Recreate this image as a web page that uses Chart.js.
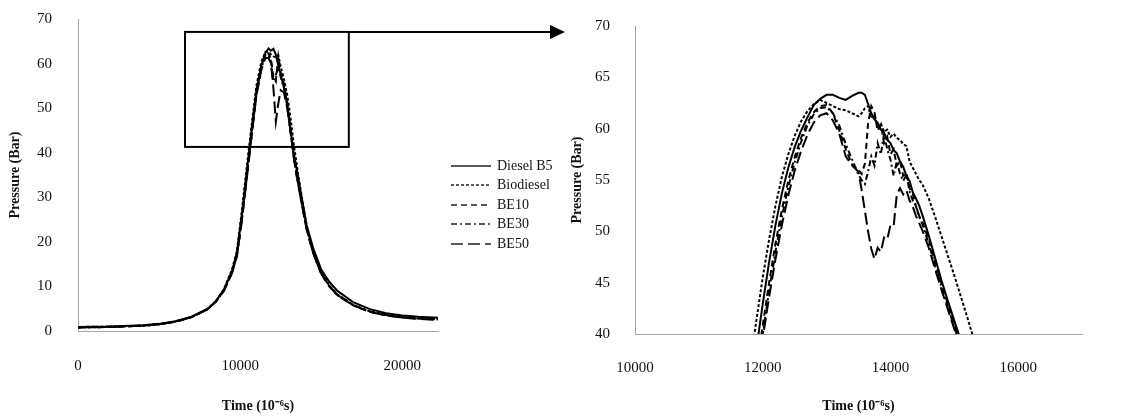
<!DOCTYPE html>
<html lang="en">
<head>
<meta charset="UTF-8">
<title>Cylinder pressure</title>
<script src="https://cdn.jsdelivr.net/npm/chart.js"></script>
<style>
    body { margin: 0; background: #fff; }
    #wrap { position: relative; width: 1122px; height: 416px; overflow: hidden;
            font-family: 'Liberation Serif', 'Times New Roman', serif; }
    canvas { position: absolute; top: 0; }
    #overview { left: 0; }
    #detail { left: 560px; }
    #legend { position: absolute; left: 451px; top: 156px; font-size: 14px; color: #111; }
    .row { height: 19.5px; display: flex; align-items: center; white-space: nowrap; }
    .row svg { margin-right: 6px; }
</style>
</head>
<body>
<div id="wrap">
    <canvas id="overview" width="570" height="416"></canvas>
    <canvas id="detail" width="562" height="416"></canvas>
    <div id="legend"></div>
</div>
<script>
    // full trace (time in 10^-6 s, pressure in bar)
    var ovTime = [0, 2000, 4000, 5000, 6000, 7000, 8000, 8500, 9000, 9500,
        9800, 10100, 10400, 10700, 11000, 11300, 11550, 11750, 11900, 12050,
        12200, 12350, 12500, 12700, 12900, 13100, 13300, 13500, 13800, 14100,
        14500, 15000, 15500, 16000, 17000, 18000, 19000, 20000, 21000, 22200];
    var ovDiesel = [0.9, 1.0, 1.3, 1.6, 2.2, 3.2, 5.0, 6.7, 9.3, 13.5,
        17.5, 26.1, 35.5, 45.0, 54.0, 59.5, 62.4, 63.4, 62.9, 63.3,
        62.0, 59.6, 57.5, 54.6, 51.0, 45.5, 40.0, 36.0, 29.8, 23.8,
        18.6, 13.8, 11.0, 9.0, 6.4, 4.9, 4.0, 3.5, 3.2, 3.0];
    var ovBio = [0.8, 0.9, 1.2, 1.5, 2.1, 3.1, 4.9, 6.7, 9.4, 13.8,
        18.0, 26.8, 36.5, 46.0, 55.0, 60.3, 62.6, 62.7, 62.0, 61.6,
        61.4, 61.9, 59.3, 56.5, 53.0, 48.0, 42.0, 37.0, 30.0, 23.4,
        17.8, 13.0, 10.2, 8.2, 5.8, 4.4, 3.6, 3.1, 2.8, 2.6];
    var ovBE10 = [0.8, 0.9, 1.2, 1.5, 2.1, 3.1, 4.9, 6.6, 9.1, 13.2,
        17.0, 25.0, 34.5, 44.0, 53.2, 59.0, 62.0, 62.3, 61.0, 57.0,
        56.0, 61.5, 58.0, 55.5, 51.0, 45.0, 39.2, 34.8, 28.8, 23.0,
        17.6, 12.8, 10.0, 8.0, 5.7, 4.3, 3.5, 3.0, 2.8, 2.6];
    var ovBE30 = [0.9, 1.0, 1.2, 1.5, 2.1, 3.1, 4.9, 6.6, 9.1, 13.1,
        16.9, 24.8, 34.2, 43.7, 53.0, 58.8, 61.8, 62.0, 60.5, 56.0,
        57.5, 59.0, 57.0, 54.5, 50.5, 44.8, 39.2, 34.5, 28.5, 22.8,
        17.5, 12.9, 10.1, 8.1, 5.8, 4.4, 3.6, 3.1, 2.8, 2.7];
    var ovBE50 = [0.8, 0.9, 1.2, 1.5, 2.1, 3.1, 4.9, 6.6, 9.0, 13.0,
        16.8, 24.6, 34.0, 43.5, 52.8, 58.5, 61.2, 61.3, 60.0, 54.5,
        47.0, 51.0, 54.0, 53.5, 50.0, 45.0, 39.0, 34.5, 28.5, 22.8,
        17.5, 12.9, 10.0, 8.0, 5.7, 4.3, 3.5, 3.0, 2.7, 2.5];

    // peak region, finer sampling
    var dtTime = [11700, 11800, 11900, 12000, 12100, 12200, 12300, 12400, 12500, 12600,
        12700, 12800, 12900, 13000, 13100, 13200, 13300, 13400, 13500,
        13550, 13600, 13650, 13700, 13750, 13800, 13850, 13900, 13950, 14000,
        14050, 14100, 14150, 14200, 14250, 14300, 14350, 14400, 14450, 14500,
        14600, 14700, 14800, 14900, 15000, 15100, 15200, 15300, 15400];
    var dtDiesel = [29.5, 34.0, 38.5, 42.9, 47.0, 50.6, 53.7, 56.2, 58.2, 59.8,
        61.1, 62.3, 62.9, 63.3, 63.3, 63.0, 62.8, 63.2, 63.5,
        63.5, 63.3, 62.4, 61.5, 60.9, 60.6, 59.9, 59.6, 58.9, 58.6,
        57.9, 57.6, 56.8, 56.3, 55.4, 54.9, 53.8, 53.2, 52.5, 51.6,
        49.6, 47.4, 45.2, 43.2, 41.3, 39.4, 37.5, 35.6, 33.8];
    var dtBio = [32.5, 37.0, 41.3, 45.5, 49.2, 52.5, 55.3, 57.5, 59.3, 60.7,
        61.7, 62.4, 62.8, 62.5, 62.2, 61.9, 61.8, 61.5, 61.2,
        61.5, 62.0, 62.2, 61.0, 61.3, 60.2, 60.5, 59.7, 59.9, 59.2,
        59.5, 59.1, 58.9, 58.5, 58.3, 56.8, 56.2, 55.6, 55.0, 54.6,
        53.2, 51.4, 49.5, 47.6, 45.7, 43.7, 41.7, 39.6, 37.5];
    var dtBE10 = [28.3, 32.5, 36.6, 40.8, 45.0, 48.8, 52.1, 54.9, 57.2, 59.1,
        60.6, 61.6, 62.2, 62.3, 61.5, 59.8, 58.0, 56.5, 56.0,
        55.6, 56.6, 60.5, 62.2, 61.6, 59.8, 60.4, 58.6, 59.2, 57.5,
        58.0, 56.4, 56.9, 55.4, 55.7, 54.2, 53.7, 52.4, 51.5, 50.9,
        49.2, 47.0, 44.9, 42.9, 40.9, 39.0, 37.0, 35.0, 33.0];
    var dtBE30 = [27.6, 31.8, 35.9, 40.0, 44.2, 48.0, 51.4, 54.3, 56.7, 58.7,
        60.3, 61.4, 62.0, 62.1, 61.5, 60.3, 58.5, 57.0, 55.5,
        55.0, 54.6, 55.8, 57.3, 56.4, 58.6, 57.5, 59.5, 58.0, 57.0,
        55.4, 56.8, 55.6, 54.9, 55.5, 53.9, 53.0, 52.5, 51.4, 50.7,
        48.8, 46.6, 44.6, 42.6, 40.7, 38.7, 36.8, 34.8, 32.8];
    var dtBE50 = [27.3, 31.5, 35.5, 39.6, 43.6, 47.3, 50.6, 53.5, 55.9, 57.8,
        59.4, 60.6, 61.3, 61.5, 60.8, 59.5, 57.3, 56.4, 55.8,
        54.0, 52.0, 50.0, 48.3, 47.3, 48.4, 48.0, 49.4, 49.2, 50.6,
        50.5, 53.6, 54.2, 53.6, 54.0, 53.0, 52.4, 51.5, 50.8, 50.1,
        48.4, 46.3, 44.3, 42.4, 40.5, 38.6, 36.7, 34.7, 32.7];

    var fuels = ['Diesel B5', 'Biodiesel', 'BE10', 'BE30', 'BE50'];
    var dashes = [[], [3, 2], [6, 4], [6, 3, 2, 3], [12, 5]];

    var ovXTicks = [0, 10000, 20000];
    var ovYTicks = [0, 10, 20, 30, 40, 50, 60, 70];
    var dtXTicks = [10000, 12000, 14000, 16000];
    var dtYTicks = [40, 45, 50, 55, 60, 65, 70];

    // window on the overview that the detail chart blows up
    var zoomBox = { x0: 6600, x1: 16700, y0: 41.3, y1: 67.1 };

    Chart.defaults.font.family = "'Liberation Serif', 'Times New Roman', serif";
    Chart.defaults.color = '#111';

    function buildDatasets(time, series) {
        return series.map(function (vals, i) {
            return {
                label: fuels[i],
                data: vals.map(function (v, k) { return { x: time[k], y: v }; }),
                borderColor: '#000',
                borderWidth: 2,
                borderDash: dashes[i],
                pointRadius: 0,
                tension: 0,
                fill: false
            };
        });
    }

    function axis(min, max, ticks, title, horizontal, o) {
        return {
            type: 'linear',
            min: min,
            max: max,
            grid: { display: false, drawTicks: false },
            border: { display: true, color: '#a6a6a6', width: 1 },
            afterBuildTicks: function (s) {
                s.ticks = ticks.map(function (v) { return { value: v }; });
            },
            afterFit: function (s) {
                if (horizontal) {
                    s.height = o.size;
                } else {
                    // tick padding would otherwise push the plot top down
                    s.width = o.size;
                    s.paddingTop = 0;
                    s.paddingBottom = 0;
                }
            },
            ticks: {
                padding: o.pad,
                font: { size: 15 },
                color: '#111',
                maxRotation: 0,
                callback: function (v) { return String(v); }
            },
            title: {
                display: true,
                text: title,
                color: '#111',
                font: { size: 14, weight: 'bold' },
                padding: { top: o.tpad, bottom: o.tpad }
            }
        };
    }

    var boxPlugin = {
        id: 'zoomBox',
        afterDraw: function (chart) {
            var ctx = chart.ctx;
            var sx = chart.scales.x, sy = chart.scales.y;
            var l = sx.getPixelForValue(zoomBox.x0), r = sx.getPixelForValue(zoomBox.x1);
            var t = sy.getPixelForValue(zoomBox.y1), b = sy.getPixelForValue(zoomBox.y0);
            ctx.save();
            ctx.strokeStyle = '#000';
            ctx.lineWidth = 2;
            ctx.strokeRect(l, t, r - l, b - t);
            // arrow towards the detail chart
            var tip = chart.width - 5;
            ctx.beginPath();
            ctx.moveTo(r, t);
            ctx.lineTo(tip - 12, t);
            ctx.stroke();
            ctx.fillStyle = '#000';
            ctx.beginPath();
            ctx.moveTo(tip, t);
            ctx.lineTo(tip - 15, t - 7);
            ctx.lineTo(tip - 15, t + 7);
            ctx.closePath();
            ctx.fill();
            ctx.restore();
        }
    };

    new Chart(document.getElementById('overview'), {
        type: 'line',
        data: { datasets: buildDatasets(ovTime, [ovDiesel, ovBio, ovBE10, ovBE30, ovBE50]) },
        options: {
            responsive: false,
            animation: false,
            layout: { padding: { top: 19, right: 132, left: 0, bottom: 0 } },
            plugins: { legend: { display: false }, tooltip: { enabled: false } },
            scales: {
                x: axis(0, 22200, ovXTicks, 'Time (10\u207B\u2076s)', true, { size: 85, pad: 26, tpad: 1 }),
                y: axis(0, 70, ovYTicks, 'Pressure (Bar)', false, { size: 78, pad: 26, tpad: 7 })
            }
        },
        plugins: [boxPlugin]
    });

    new Chart(document.getElementById('detail'), {
        type: 'line',
        data: { datasets: buildDatasets(dtTime, [dtDiesel, dtBio, dtBE10, dtBE30, dtBE50]) },
        options: {
            responsive: false,
            animation: false,
            layout: { padding: { top: 26, right: 40, left: 0, bottom: 0 } },
            plugins: { legend: { display: false }, tooltip: { enabled: false } },
            scales: {
                x: axis(10000, 17000, dtXTicks, 'Time (10\u207B\u2076s)', true, { size: 82, pad: 25, tpad: 1 }),
                y: axis(40, 70, dtYTicks, 'Pressure (Bar)', false, { size: 75, pad: 25, tpad: 9 })
            }
        }
    });

    // legend built as html so the labels stay text
    var legend = document.getElementById('legend');
    fuels.forEach(function (name, i) {
        var row = document.createElement('div');
        row.className = 'row';
        row.innerHTML = '<svg width="40" height="8"><line x1="0" y1="4" x2="40" y2="4" stroke="#222" stroke-width="1.3"' +
            (dashes[i].length ? ' stroke-dasharray="' + dashes[i].join(',') + '"' : '') + '/></svg>' +
            '<span>' + name + '</span>';
        legend.appendChild(row);
    });
</script>
</body>
</html>
